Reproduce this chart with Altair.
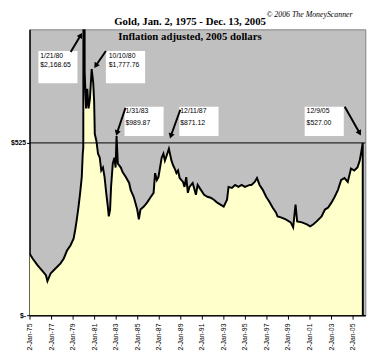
import altair as alt
import pandas as pd

# ---- price series (inflation adjusted) ----
years = [
    1975.00, 1975.30, 1975.75, 1976.21, 1976.52, 1976.66, 1976.97, 1977.43, 1977.88,
    1978.18, 1978.48, 1978.79, 1979.09, 1979.25, 1979.39, 1979.55, 1979.70, 1979.85,
    1979.94, 1979.99, 1980.05, 1980.12, 1980.25, 1980.36, 1980.48, 1980.61, 1980.77,
    1980.91, 1981.00, 1981.06, 1981.21, 1981.36, 1981.52, 1981.66, 1981.82, 1981.97,
    1982.12, 1982.27, 1982.36, 1982.48, 1982.57, 1982.73, 1982.88, 1982.99, 1983.08,
    1983.20, 1983.48, 1983.64, 1983.94, 1984.25, 1984.39, 1984.70, 1985.00, 1985.15,
    1985.30, 1985.61, 1985.91, 1986.21, 1986.52, 1986.66, 1986.82, 1986.97, 1987.12,
    1987.27, 1987.43, 1987.57, 1987.73, 1987.88, 1987.94, 1988.18, 1988.34, 1988.48,
    1988.64, 1988.79, 1988.94, 1989.25, 1989.39, 1989.55, 1989.70, 1989.85, 1990.15,
    1990.45, 1990.61, 1990.91, 1991.21, 1991.52, 1991.82, 1992.12, 1992.43, 1992.73,
    1993.03, 1993.34, 1993.48, 1993.79, 1994.09, 1994.39, 1994.70, 1995.00, 1995.45,
    1995.61, 1995.91, 1996.12, 1996.36, 1996.66, 1996.97, 1997.27, 1997.57, 1997.88,
    1998.03, 1998.34, 1998.79, 1999.25, 1999.48, 1999.70, 1999.85, 2000.30, 2000.75,
    2001.06, 2001.36, 2001.66, 2002.12, 2002.43, 2002.73, 2003.03, 2003.34, 2003.64,
    2003.94, 2004.25, 2004.55, 2004.85, 2005.15, 2005.45, 2005.66, 2005.82, 2005.94,
    2005.95,
]
values = [
    188, 172, 152, 134, 122, 104, 128, 143, 158,
    173, 197, 212, 233, 262, 292, 331, 373, 421,
    492, 510, 2168.65, 740, 630, 690, 630, 660, 750,
    710, 650, 552, 531, 492, 480, 441, 450, 420,
    373, 331, 301, 322, 391, 462, 480, 450, 546,
    462, 450, 436, 421, 403, 382, 358, 322, 292,
    322, 331, 343, 358, 373, 433, 412, 421, 450,
    480, 492, 471, 486, 501, 507, 471, 456, 447,
    433, 441, 418, 406, 391, 421, 373, 391, 403,
    367, 397, 382, 367, 361, 358, 352, 343, 337,
    331, 352, 391, 388, 397, 391, 397, 391, 397,
    397, 406, 418, 397, 382, 361, 346, 328, 313,
    301, 298, 292, 283, 268, 337, 286, 283, 277,
    271, 277, 286, 301, 322, 328, 343, 361, 382,
    412, 418, 406, 447, 441, 450, 471, 501, 525,
    0,
]

# ---- axis ticks ----
x_ticks = [1975, 1977, 1979, 1981, 1983, 1985, 1987, 1989, 1991, 1993,
           1995, 1997, 1999, 2001, 2003, 2005]
y_ticks = [0, 525]
ref_level = [525]

# ---- annotations ----
ann_date = ["1/21/80", "10/10/80", "1/31/83", "12/11/87", "12/9/05"]
ann_price = ["$2,168.65", "$1,777.76", "$989.87", "$871.12", "$527.00"]
box_x0 = [1975.82, 1982.09, 1983.82, 1988.91, 2000.55]
box_x1 = [1979.45, 1985.73, 1987.45, 1992.55, 2004.18]
box_y0 = [707, 707, 546, 546, 546]
box_y1 = [805, 805, 635, 635, 635]
text_x = [1976.0, 1982.36, 1983.91, 1989.0, 2000.73]
text_y1 = [790, 790, 623, 623, 623]
text_y2 = [761, 761, 585, 585, 585]
arrow_x0 = [1978.82, 1982.09, 1983.91, 1989.0, 2004.27]
arrow_y0 = [802, 805, 632, 626, 635]
arrow_x1 = [1979.75, 1981.15, 1983.12, 1988.12, 2005.65]
arrow_y1 = [853, 760, 555, 546, 555]
arrow_angle = [29, 213, 197, 198, 152]

title_text = ["Gold, Jan. 2, 1975 - Dec. 13, 2005"]
subtitle_text = ["Inflation adjusted, 2005 dollars"]
subtitle_x = [1989.9]
subtitle_y = [847]
copyright_text = ["\u00a9 2006  The MoneyScanner"]

X_DOMAIN = [1975, 2006.18]
Y_DOMAIN = [0, 871]

series = pd.DataFrame({"year": years, "value": values})
ann = pd.DataFrame({
    "date": ann_date, "price": ann_price,
    "bx0": box_x0, "bx1": box_x1, "by0": box_y0, "by1": box_y1,
    "tx": text_x, "ty1": text_y1, "ty2": text_y2,
    "ax0": arrow_x0, "ay0": arrow_y0, "ax1": arrow_x1, "ay1": arrow_y1,
    "ang": arrow_angle,
})

xs = alt.Scale(domain=X_DOMAIN, nice=False, zero=False)
ys = alt.Scale(domain=Y_DOMAIN, nice=False)

x_axis = alt.Axis(
    values=x_ticks, labelAngle=-90, title=None, grid=False, labelOverlap=False,
    labelExpr="'2-Jan-' + slice(toString(datum.value), 2)",
    labelFont="Liberation Sans", labelFontSize=7, labelColor="black",
    tickColor="black", tickSize=4, domainColor="black", domainWidth=1.5,
    labelPadding=4, labelAlign="right", labelBaseline="middle",
)
y_axis = alt.Axis(
    values=y_ticks, title=None, grid=False, labelOverlap=False,
    labelExpr="datum.value == 0 ? '$-' : '$' + datum.value",
    labelFont="Liberation Sans", labelFontSize=7, labelFontWeight="bold",
    labelColor="black", tickColor="black", tickSize=3, domainColor="black",
    domainWidth=1.5, labelPadding=1,
)


def X(f):
    return alt.X(f, scale=xs, axis=x_axis)


def Y(f):
    return alt.Y(f, scale=ys, axis=y_axis)


base = alt.Chart(series)

area = base.mark_area(color="#FFFFCC", clip=True).encode(
    x=X("year:Q"), y=Y("value:Q"),
)
line = base.mark_line(color="black", strokeWidth=2, clip=True).encode(
    x=X("year:Q"), y=Y("value:Q"),
)

ref = alt.Chart(pd.DataFrame({"v": ref_level})).mark_rule(
    color="black", strokeWidth=1
).encode(y=Y("v:Q"))

annb = alt.Chart(ann)
boxes = annb.mark_rect(color="white", opacity=1).encode(
    x=X("bx0:Q"), x2="bx1:Q", y=Y("by0:Q"), y2="by1:Q",
)
t1 = annb.mark_text(align="left", baseline="middle", font="Liberation Sans",
                    fontSize=7, color="black").encode(
    x=X("tx:Q"), y=Y("ty1:Q"), text="date:N")
t2 = annb.mark_text(align="left", baseline="middle", font="Liberation Sans",
                    fontSize=7, color="black").encode(
    x=X("tx:Q"), y=Y("ty2:Q"), text="price:N")
arrows = annb.mark_rule(color="black", strokeWidth=2).encode(
    x=X("ax0:Q"), x2="ax1:Q", y=Y("ay0:Q"), y2="ay1:Q",
)
heads = annb.mark_point(shape="triangle-up", filled=True, color="black",
                        size=40, opacity=1).encode(
    x=X("ax1:Q"), y=Y("ay1:Q"),
    angle=alt.Angle("ang:Q", scale=None),
)

sub = alt.Chart(pd.DataFrame({"t": subtitle_text, "x": subtitle_x, "y": subtitle_y})).mark_text(
    font="Liberation Serif", fontSize=11, fontWeight="bold", color="black",
    baseline="middle", align="center",
).encode(x=X("x:Q"), y=Y("y:Q"), text="t:N")

ttl = alt.Chart(pd.DataFrame({"t": title_text})).mark_text(
    font="Liberation Serif", fontSize=11, fontWeight="bold", color="black",
    baseline="middle", align="center",
).encode(x=alt.value(164), y=alt.value(-7), text="t:N")

copy = alt.Chart(pd.DataFrame({"t": copyright_text})).mark_text(
    font="Liberation Serif", fontSize=8, fontStyle="italic", color="black",
    align="left", baseline="middle",
).encode(x=alt.value(242), y=alt.value(-15), text="t:N")

chart = alt.layer(area, line, ref, boxes, arrows, heads, t1, t2, sub, ttl, copy).properties(
    width=343, height=292,
    padding={"left": 22, "top": 18, "right": 15, "bottom": 46},
    autosize=alt.AutoSizeParams(type="none"),
).configure_view(
    fill="#C0C0C0", stroke="#808080", strokeWidth=1
)

chart.save("out.html", embed_options={"renderer": "svg", "actions": False})
